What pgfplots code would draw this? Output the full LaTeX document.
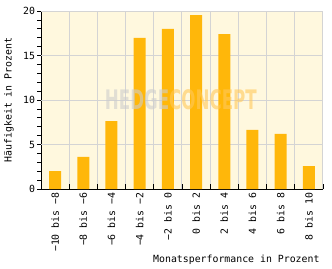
\documentclass[border=0pt]{standalone}
\usepackage{fontspec}
\setmainfont{DejaVu Sans Mono}
\newfontfamily\wmfont{DejaVu Sans}
\usepackage{pgfplots}
\pgfplotsset{compat=1.18}
\definecolor{barc}{RGB}{255,183,10}
\definecolor{bgc}{RGB}{255,248,222}
\definecolor{gridc}{RGB}{212,212,212}
\definecolor{hedgec}{RGB}{205,205,205}
\definecolor{concc}{RGB}{255,200,90}
\begin{document}
\begin{tikzpicture}
\begin{axis}[
  scale only axis, width=282bp, height=178bp,
  xmin=-0.5, xmax=9.5, ymin=0, ymax=20,
  axis x line*=bottom, axis y line*=left,
  axis line style={-, black, line width=0.8pt},
  axis background/.style={fill=bgc},
  font=\fontsize{9.9}{12}\selectfont,
  /pgf/number format/assume math mode=true,
  tick align=inside,
  xtick={0,...,9},
  xticklabels={−10 bis −8,−8 bis −6,−6 bis −4,−4 bis −2,−2 bis 0,0 bis 2,2 bis 4,4 bis 6,6 bis 8,8 bis 10},
  major x tick style={draw=none},
  minor xtick={-0.5,0.5,...,9.5},
  minor tick length=5bp,
  minor x tick style={black, line width=0.8pt},
  xminorgrids,
  minor x grid style={gridc, line width=1bp},
  xticklabel style={rotate=90, anchor=east},
  ytick={0,...,20},
  yticklabels={0,,,,,5,,,,,10,,,,,15,,,,,20},
  major tick length=3.5bp,
  y tick style={black, line width=0.8pt, xshift=-3.5bp},
  yticklabel style={xshift=-2.5bp},
  extra y ticks={5,10,15,20},
  extra y tick labels={},
  extra y tick style={grid=major, major grid style={gridc, line width=1bp}, tick style={draw=none}},
  ylabel={Häufigkeit in Prozent},
  ylabel style={at={(axis description cs:-0.114,0.5)}, anchor=center},
  xlabel={Monatsperformance in Prozent},
  xlabel style={at={(axis description cs:1.0,-0.4)}, anchor=east},
]
\addplot[ybar, bar width=12bp, fill=barc, draw=none] coordinates {
(0,2.02) (1,3.6) (2,7.64) (3,16.97) (4,17.98) (5,19.55) (6,17.4) (7,6.63) (8,6.18) (9,2.58)};
\node[xscale=0.62, inner sep=0, text opacity=0.6] at (axis cs:4.46,10.0)
  {\wmfont\bfseries\fontsize{27}{27}\selectfont{\color{hedgec}HEDGE}{\color{concc}CONCEPT}};
\end{axis}
\pgfresetboundingbox
\path[use as bounding box] (-41bp,-80bp) rectangle (291bp,189bp);
\end{tikzpicture}
\end{document}
